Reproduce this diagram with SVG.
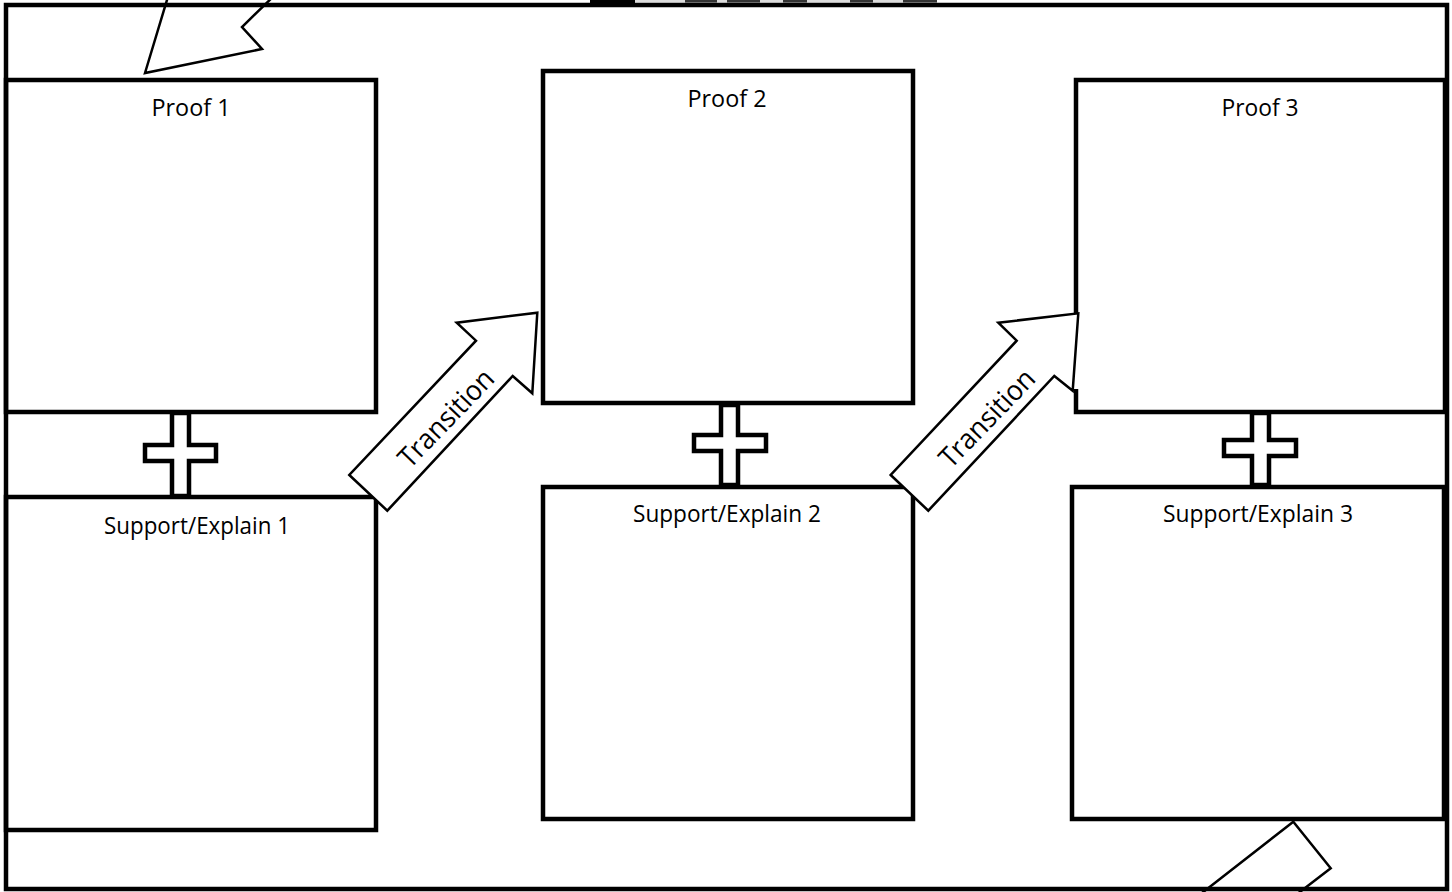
<svg xmlns="http://www.w3.org/2000/svg" width="1452" height="892" viewBox="0 0 1452 892">
  <style>
    .frame { fill: none; stroke: #000; stroke-width: 4.5; }
    .box { fill: none; stroke: #000; stroke-width: 4.5; }
    .plus { fill: #fff; stroke: #000; stroke-width: 4.5; stroke-linejoin: miter; }
    .arrow { fill: #fff; stroke: #000; stroke-width: 2.5; stroke-linejoin: miter; }
    .lbl { font-family: "Open Sans", "Noto Sans", "Liberation Sans", sans-serif; font-size: 24px; fill: #000; text-anchor: middle; }
    .tr { font-family: "Open Sans", "Noto Sans", "Liberation Sans", sans-serif; font-size: 28px; fill: #000; text-anchor: middle; }
  </style>
  <rect width="1452" height="892" fill="#fff"/>

  <!-- cut-off title remnants -->
  <g id="title-remnant">
    <rect x="635" y="0" width="302" height="2.5" fill="#dcdcdc"/>
    <rect x="590" y="0" width="45" height="3" fill="#000"/>
    <rect x="685" y="0" width="32" height="2.5" fill="#333"/>
    <rect x="727" y="0" width="33" height="2.5" fill="#333"/>
    <rect x="783" y="0" width="24" height="2.5" fill="#333"/>
    <rect x="850" y="0" width="23" height="2.5" fill="#333"/>
    <rect x="903" y="0" width="34" height="2.5" fill="#333"/>
  </g>

  <!-- callout shapes entering from outside -->
  <g id="callout-top">
    <polygon class="arrow" points="170,-10 145,73 262,49 242,27 280,-10"/>
  </g>
  <g id="callout-bottom">
    <polygon class="arrow" points="1193,900 1293.3,821.7 1330.7,868.3 1289.4,900"/>
  </g>

  <g id="frame">
    <rect class="frame" x="6" y="5" width="1441" height="884"/>
  </g>

  <g id="proof1">
    <rect class="box" x="6" y="80" width="370" height="332"/>
    <text class="lbl" x="191" y="116" textLength="79" lengthAdjust="spacingAndGlyphs">Proof 1</text>
  </g>
  <g id="support1">
    <rect class="box" x="6" y="497" width="370" height="333"/>
    <text class="lbl" x="197" y="534" textLength="186" lengthAdjust="spacingAndGlyphs">Support/Explain 1</text>
  </g>
  <g id="proof2">
    <rect class="box" x="543" y="71" width="370" height="332"/>
    <text class="lbl" x="727" y="107" textLength="79" lengthAdjust="spacingAndGlyphs">Proof 2</text>
  </g>
  <g id="support2">
    <rect class="box" x="543" y="487" width="370" height="332"/>
    <text class="lbl" x="727" y="522" textLength="188" lengthAdjust="spacingAndGlyphs">Support/Explain 2</text>
  </g>
  <g id="proof3">
    <rect class="box" x="1076" y="80" width="369" height="332"/>
    <text class="lbl" x="1260" y="116" textLength="77" lengthAdjust="spacingAndGlyphs">Proof 3</text>
  </g>
  <g id="support3">
    <rect class="box" x="1072" y="487" width="372" height="332"/>
    <text class="lbl" x="1258" y="522" textLength="190" lengthAdjust="spacingAndGlyphs">Support/Explain 3</text>
  </g>

  <g id="connectors">
    <g id="plus1">
      <polygon class="plus" points="172,413 189,413 189,445 216,445 216,461 189,461 189,496 172,496 172,461 145,461 145,445 172,445"/>
    </g>
    <g id="plus2">
      <polygon class="plus" points="721,405 738,405 738,435 766,435 766,451 738,451 738,485 721,485 721,451 694,451 694,435 721,435"/>
    </g>
    <g id="plus3">
      <polygon class="plus" points="1252,413 1269,413 1269,440 1296,440 1296,456 1269,456 1269,485 1252,485 1252,456 1224,456 1224,440 1252,440"/>
    </g>
    <g id="transition1">
      <polygon class="arrow" points="349.3,475 387.3,510.7 512.7,376 532.3,393.3 537.3,312.7 456.7,322.7 476,340.7"/>
      <text class="tr" transform="translate(453,425) rotate(-46)" textLength="124" lengthAdjust="spacingAndGlyphs">Transition</text>
    </g>
    <g id="transition2">
      <rect x="1072" y="316" width="9" height="73" fill="#fff"/>
      <polygon class="arrow" points="890.7,475 928.3,510.7 1054.3,376 1072.7,390.7 1078.3,313.3 998.3,322.7 1016.7,340.7"/>
      <text class="tr" transform="translate(994,425) rotate(-46)" textLength="124" lengthAdjust="spacingAndGlyphs">Transition</text>
    </g>
  </g>
</svg>
